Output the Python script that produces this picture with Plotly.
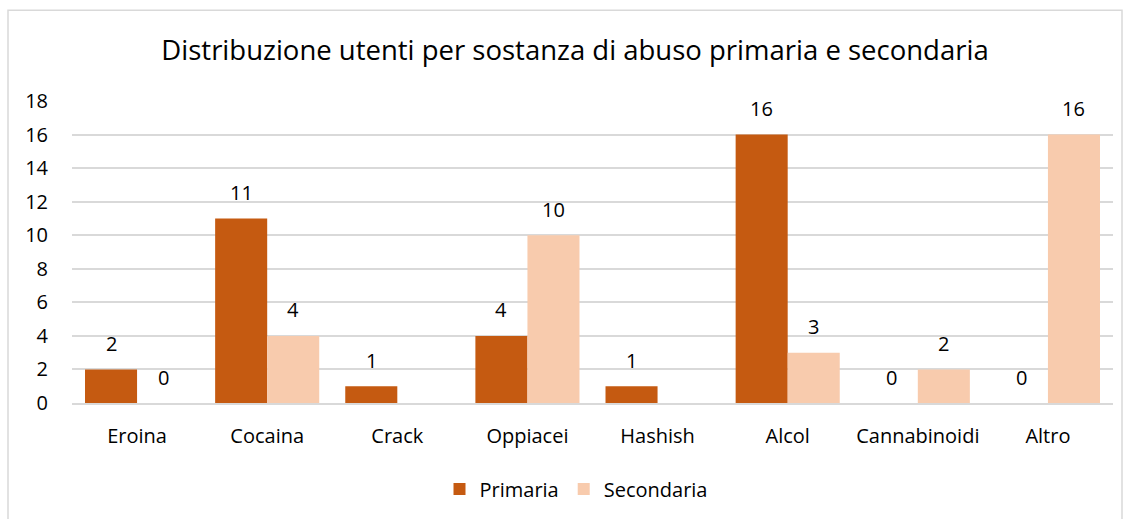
import plotly.graph_objects as go

categories = ["Eroina", "Cocaina", "Crack", "Oppiacei", "Hashish", "Alcol", "Cannabinoidi", "Altro"]
primaria = [2, 11, 1, 4, 1, 16, 0, 0]
secondaria = [0, 4, None, 10, None, 3, 2, 16]
y_ticks = [0, 2, 4, 6, 8, 10, 12, 14, 16, 18]

C_PRI = "#C55A11"
C_SEC = "#F8CBAD"
FONT = "'Open Sans', 'Noto Sans', sans-serif"

W, H = 1131, 519
L, R, T, B = 72, 18, 101, 115
pw, ph = W - L - R, H - T - B

fig = go.Figure()
fig.add_trace(go.Bar(x=categories, y=primaria, name="Primaria", marker_color=C_PRI,
                     marker_line_width=0))
fig.add_trace(go.Bar(x=categories, y=secondaria, name="Secondaria", marker_color=C_SEC,
                     marker_line_width=0))

ann = []
for series, shift in ((primaria, -26), (secondaria, 26)):
    for c, v in zip(categories, series):
        if v is None:
            continue
        ann.append(dict(x=c, y=v, xref="x", yref="y", text=str(v), showarrow=False,
                        xshift=shift, yshift=26, yanchor="middle",
                        font=dict(size=20, color="#000000", family=FONT)))

def px_x(p):
    return (p - L) / pw

def px_y(p):
    return (H - B - p) / ph

shapes = [dict(type="rect", xref="paper", yref="paper",
               x0=px_x(8), x1=px_x(1122), y0=px_y(530), y1=px_y(10),
               line=dict(color="#D9D9D9", width=1.5), fillcolor="rgba(0,0,0,0)", layer="below")]

fig.update_layout(
    width=W, height=H,
    margin=dict(l=L, r=R, t=T, b=B),
    paper_bgcolor="white", plot_bgcolor="white",
    barmode="group", bargap=0.2, bargroupgap=0,
    font=dict(family=FONT, size=20, color="#000000"),
    title=dict(text="Distribuzione utenti per sostanza di abuso primaria e secondaria",
               x=575 / W, xref="container", xanchor="center", y=1 - 50 / H, yanchor="middle",
               font=dict(size=27.5, family=FONT, color="#000000")),
    xaxis=dict(showgrid=False, showline=True, linecolor="#D9D9D9", linewidth=1.5,
               ticks="", tickfont=dict(size=20), ticklabelstandoff=14),
    yaxis=dict(range=[0, 18], tickvals=y_ticks, showgrid=True, gridcolor="#D9D9D9",
               gridwidth=1.5, zeroline=False, showline=False, ticks="",
               tickfont=dict(size=20), ticklabelstandoff=23),
    legend=dict(orientation="h", x=px_x(576), xanchor="center", y=px_y(489), yanchor="middle",
                font=dict(size=20), itemwidth=30, traceorder="normal"),
    annotations=ann,
    shapes=shapes,
    showlegend=True,
)

fig.write_html("out.html", config={"displayModeBar": False},
               post_script="document.body.style.margin='0';")
